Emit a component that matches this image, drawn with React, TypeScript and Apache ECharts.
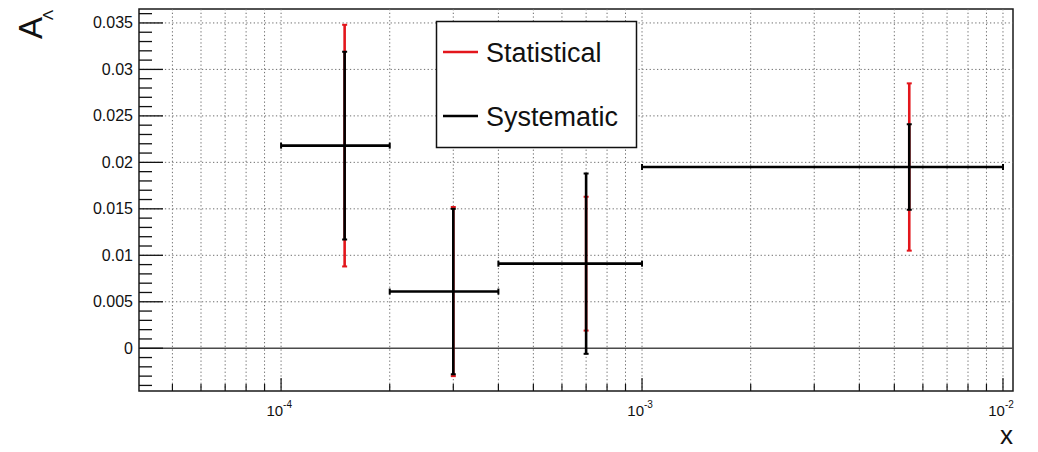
import React, { useEffect, useRef } from "react";
import * as echarts from "echarts";

// axis ranges
const X_MIN = 4.04e-5;
const X_MAX = 1.066e-2;
const Y_MIN = -0.0046;
const Y_MAX = 0.0365;

// data: bins in x, asymmetry A_Lambda with statistical and systematic errors
const binLow = [1e-4, 2e-4, 4e-4, 1e-3];
const binHigh = [2e-4, 4e-4, 1e-3, 1e-2];
const binCenter = [1.5e-4, 3.0e-4, 7.0e-4, 5.5e-3];
const asymmetry = [0.0218, 0.0061, 0.0091, 0.0195];
const statError = [0.013, 0.0091, 0.0072, 0.009];
const systError = [0.0101, 0.0089, 0.0097, 0.0046];

// ticks
const xGridTicks = [
  5e-5, 6e-5, 7e-5, 8e-5, 9e-5,
  1e-4, 2e-4, 3e-4, 4e-4, 5e-4, 6e-4, 7e-4, 8e-4, 9e-4,
  1e-3, 2e-3, 3e-3, 4e-3, 5e-3, 6e-3, 7e-3, 8e-3, 9e-3,
  1e-2,
];
const xMajorTicks = [1e-4, 1e-3, 1e-2];
const xMajorExponents = ["-4", "-3", "-2"];
const yMajorTicks = [0, 0.005, 0.01, 0.015, 0.02, 0.025, 0.03, 0.035];
const yTickLabels = ["0", "0.005", "0.01", "0.015", "0.02", "0.025", "0.03", "0.035"];
const yMinorTicks = [
  -0.004, -0.003, -0.002, -0.001,
  0.001, 0.002, 0.003, 0.004,
  0.006, 0.007, 0.008, 0.009,
  0.011, 0.012, 0.013, 0.014,
  0.016, 0.017, 0.018, 0.019,
  0.021, 0.022, 0.023, 0.024,
  0.026, 0.027, 0.028, 0.029,
  0.031, 0.032, 0.033, 0.034,
  0.036,
];

const legendNames = ["Statistical", "Systematic"];
const xTitle = "x";

const FONT = "'Liberation Sans', Arial, Helvetica, sans-serif";
const RED = "#e3161c";
const BLACK = "#000000";
const GRID_COLOR = "#6e6e6e";
const GRID_DASH = [1.3, 2.4];

export default function App() {
  const ref = useRef<HTMLDivElement>(null);

  useEffect(() => {
    if (!ref.current) return;
    const chart = echarts.init(ref.current, null, { renderer: "svg" });

    const xGridData = xGridTicks.map((v) => [v, Y_MIN, xMajorTicks.indexOf(v)]);
    const yTickData = [
      ...yMajorTicks.map((v, i) => [X_MIN, v, i]),
      ...yMinorTicks.map((v) => [X_MIN, v, -1]),
    ];
    const errData = binCenter.map((x, i) => [
      x, asymmetry[i], binLow[i], binHigh[i], statError[i], systError[i],
    ]);

    const option: any = {
      animation: false,
      backgroundColor: "#ffffff",
      grid: {
        left: 139,
        right: 25,
        top: 9,
        bottom: 61,
        show: true,
        borderColor: "#1a1a1a",
        borderWidth: 1.5,
        backgroundColor: "#ffffff",
      },
      xAxis: {
        type: "log",
        logBase: 10,
        min: X_MIN,
        max: X_MAX,
        axisLine: { show: false },
        axisTick: { show: false },
        axisLabel: { show: false },
        splitLine: { show: false },
      },
      yAxis: {
        type: "value",
        min: Y_MIN,
        max: Y_MAX,
        axisLine: { show: false },
        axisTick: { show: false },
        axisLabel: { show: false },
        splitLine: { show: false },
      },
      series: [
        {
          type: "custom",
          name: "xgrid",
          silent: true,
          clip: false,
          z: 1,
          encode: { x: 0, y: 1 },
          data: xGridData,
          renderItem: (params: any, api: any) => {
            const v = api.value(0);
            const major = api.value(2);
            const cs = params.coordSys;
            const px = api.coord([v, Y_MIN])[0];
            const bottom = cs.y + cs.height;
            const children: any[] = [
              {
                type: "line",
                shape: { x1: px, y1: cs.y, x2: px, y2: bottom },
                style: { stroke: GRID_COLOR, lineWidth: 1, lineDash: GRID_DASH },
              },
              {
                type: "line",
                shape: { x1: px, y1: bottom, x2: px, y2: bottom - (major >= 0 ? 13 : 7) },
                style: { stroke: "#111", lineWidth: 1.2 },
              },
            ];
            if (major >= 0) {
              children.push({
                type: "text",
                style: {
                  text: "10",
                  x: px + 2,
                  y: bottom + 19,
                  align: "right",
                  verticalAlign: "middle",
                  fontSize: 15,
                  fontFamily: FONT,
                  fill: "#111",
                },
              });
              children.push({
                type: "text",
                style: {
                  text: xMajorExponents[major],
                  x: px + 2,
                  y: bottom + 13,
                  align: "left",
                  verticalAlign: "middle",
                  fontSize: 10,
                  fontFamily: FONT,
                  fill: "#111",
                },
              });
            }
            return { type: "group", children };
          },
        },
        {
          type: "custom",
          name: "yticks",
          silent: true,
          clip: false,
          z: 1,
          encode: { x: 0, y: 1 },
          data: yTickData,
          renderItem: (params: any, api: any) => {
            const v = api.value(1);
            const idx = api.value(2);
            const cs = params.coordSys;
            const py = api.coord([X_MIN, v])[1];
            const left = cs.x;
            const right = cs.x + cs.width;
            const children: any[] = [];
            if (idx >= 0) {
              if (v === 0) {
                children.push({
                  type: "line",
                  shape: { x1: left, y1: py, x2: right, y2: py },
                  style: { stroke: "#4a4a4a", lineWidth: 1.7 },
                });
              } else {
                children.push({
                  type: "line",
                  shape: { x1: left, y1: py, x2: right, y2: py },
                  style: { stroke: GRID_COLOR, lineWidth: 1, lineDash: GRID_DASH },
                });
              }
              children.push({
                type: "line",
                shape: { x1: left, y1: py, x2: left + 24, y2: py },
                style: { stroke: "#111", lineWidth: 1.3 },
              });
              children.push({
                type: "text",
                style: {
                  text: yTickLabels[idx],
                  x: left - 6,
                  y: py,
                  align: "right",
                  verticalAlign: "middle",
                  fontSize: 16,
                  fontFamily: FONT,
                  fill: "#111",
                },
              });
            } else {
              children.push({
                type: "line",
                shape: { x1: left, y1: py, x2: left + 13, y2: py },
                style: { stroke: "#111", lineWidth: 1.3 },
              });
            }
            return { type: "group", children };
          },
        },
        {
          type: "custom",
          name: "errors",
          silent: true,
          clip: false,
          z: 5,
          encode: { x: 0, y: 1 },
          data: errData,
          renderItem: (params: any, api: any) => {
            const xc = api.value(0);
            const y = api.value(1);
            const xlo = api.value(2);
            const xhi = api.value(3);
            const st = api.value(4);
            const sy = api.value(5);
            const c = api.coord([xc, y]);
            const lo = api.coord([xlo, y]);
            const hi = api.coord([xhi, y]);
            const stTop = api.coord([xc, y + st])[1];
            const stBot = api.coord([xc, y - st])[1];
            const syTop = api.coord([xc, y + sy])[1];
            const syBot = api.coord([xc, y - sy])[1];
            const lw = 2.6;
            const cap = 2.5;
            const seg = (x1: number, y1: number, x2: number, y2: number, color: string, w = lw) => ({
              type: "line",
              shape: { x1, y1, x2, y2 },
              style: { stroke: color, lineWidth: w },
            });
            return {
              type: "group",
              children: [
                seg(c[0], stTop, c[0], stBot, RED),
                seg(c[0] - cap, stTop, c[0] + cap, stTop, RED, 2),
                seg(c[0] - cap, stBot, c[0] + cap, stBot, RED, 2),
                seg(c[0], syTop, c[0], syBot, BLACK),
                seg(c[0] - cap, syTop, c[0] + cap, syTop, BLACK, 2),
                seg(c[0] - cap, syBot, c[0] + cap, syBot, BLACK, 2),
                seg(lo[0], c[1], hi[0], c[1], BLACK),
                seg(lo[0], c[1] - 3, lo[0], c[1] + 3, BLACK, 2),
                seg(hi[0], c[1] - 3, hi[0], c[1] + 3, BLACK, 2),
              ],
            };
          },
        },
      ],
      graphic: [
        {
          type: "rect",
          z: 100,
          shape: { x: 436.5, y: 21.5, width: 200, height: 126 },
          style: { fill: "#ffffff", stroke: "#111", lineWidth: 1.5 },
        },
        {
          type: "line",
          z: 101,
          shape: { x1: 443, y1: 52, x2: 478, y2: 52 },
          style: { stroke: RED, lineWidth: 2.6 },
        },
        {
          type: "text",
          z: 101,
          x: 486,
          y: 53,
          style: {
            text: legendNames[0],
            fontSize: 27,
            fontFamily: FONT,
            fill: "#111",
            verticalAlign: "middle",
          },
        },
        {
          type: "line",
          z: 101,
          shape: { x1: 443, y1: 116, x2: 478, y2: 116 },
          style: { stroke: BLACK, lineWidth: 2.6 },
        },
        {
          type: "text",
          z: 101,
          x: 486,
          y: 117,
          style: {
            text: legendNames[1],
            fontSize: 27,
            fontFamily: FONT,
            fill: "#111",
            verticalAlign: "middle",
          },
        },
        {
          type: "text",
          z: 101,
          x: 30,
          y: 28,
          rotation: Math.PI / 2,
          style: {
            text: "A",
            fontSize: 33,
            fontFamily: FONT,
            fill: "#111",
            align: "center",
            verticalAlign: "middle",
          },
        },
        {
          type: "text",
          z: 101,
          x: 47,
          y: 15,
          rotation: Math.PI / 2,
          style: {
            text: "Λ",
            fontSize: 15,
            fontFamily: FONT,
            fill: "#111",
            align: "center",
            verticalAlign: "middle",
          },
        },
        {
          type: "text",
          z: 101,
          x: 1013,
          y: 448,
          style: {
            text: xTitle,
            fontSize: 26,
            fontFamily: FONT,
            fill: "#111",
            align: "right",
            verticalAlign: "bottom",
          },
        },
      ],
    };

    chart.setOption(option);
    return () => chart.dispose();
  }, []);

  return (
    <div
      ref={ref}
      style={{ width: 1038, height: 452, position: "absolute", left: 0, top: 0 }}
    />
  );
}
